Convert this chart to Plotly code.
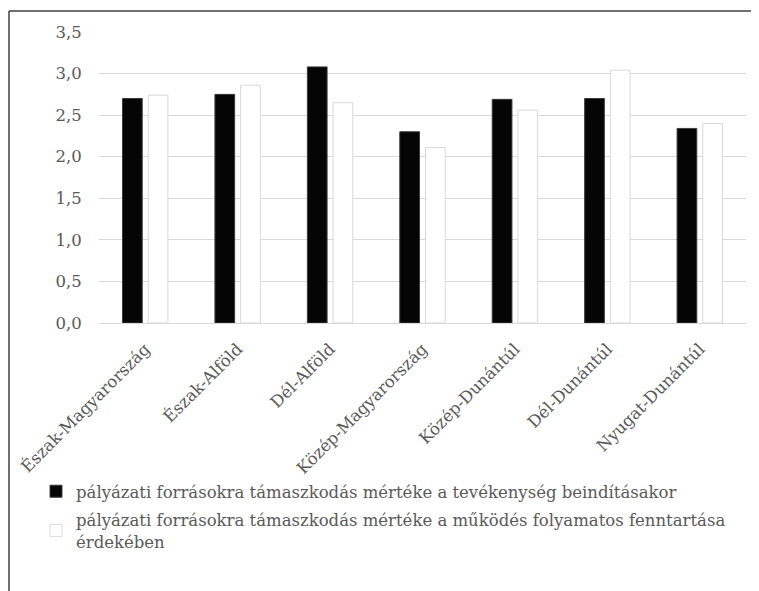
import plotly.graph_objects as go

categories = ["Észak-Magyarország", "Észak-Alföld", "Dél-Alföld", "Közép-Magyarország",
              "Közép-Dunántúl", "Dél-Dunántúl", "Nyugat-Dunántúl"]
start_values = [2.70, 2.75, 3.08, 2.30, 2.69, 2.70, 2.34]
maintain_values = [2.74, 2.86, 2.65, 2.11, 2.56, 3.04, 2.40]
series_names = [
    "pályázati forrásokra támaszkodás mértéke a tevékenység beindításakor",
    "pályázati forrásokra támaszkodás mértéke a működés folyamatos fenntartása<br>érdekében",
]
y_ticks = [0, 0.5, 1.0, 1.5, 2.0, 2.5, 3.0, 3.5]

# the page body adds an 8px margin; size the figure so it ends at the window edge
OFF = 8
W, H = 759 - OFF, 591 - OFF
ML, MR, MT, MB = 99 - OFF, 13, 32 - OFF, 268
pw, ph = W - ML - MR, H - MT - MB

FONT = "DejaVu Serif, serif"
GREY = "#595959"
FS = 16.5

fig = go.Figure()
fig.add_trace(go.Bar(x=categories, y=start_values, name=series_names[0],
                     marker=dict(color="#050505", line=dict(color="#3a3a3a", width=1)),
                     legendgroup="a"))
fig.add_trace(go.Bar(x=categories, y=maintain_values, name=series_names[1],
                     marker=dict(color="#ffffff", line=dict(color="#d9d9d9", width=1)),
                     legendgroup="b"))


def px_x(p):
    return (p - OFF - ML) / pw


def px_y(p):
    return (H - MB - (p - OFF)) / ph


fig.add_shape(type="line", xref="paper", yref="paper",
              x0=px_x(9), x1=px_x(9), y0=px_y(11), y1=px_y(591),
              line=dict(color="#404040", width=1.5))
fig.add_shape(type="line", xref="paper", yref="paper",
              x0=px_x(9), x1=px_x(759), y0=px_y(11), y1=px_y(11),
              line=dict(color="#404040", width=1.5))

fig.update_layout(
    width=W, height=H,
    margin=dict(l=ML, r=MR, t=MT, b=MB, pad=0, autoexpand=False),
    paper_bgcolor="white", plot_bgcolor="white",
    barmode="group", bargap=0.444, bargroupgap=0.233,
    separators=", ",
    font=dict(family=FONT, size=FS, color=GREY),
    showlegend=True,
    legend=dict(x=px_x(36), y=px_y(474),
                xanchor="left", yanchor="top", orientation="v",
                font=dict(family=FONT, size=FS, color=GREY),
                tracegroupgap=4, itemwidth=30, bgcolor="rgba(0,0,0,0)"),
    xaxis=dict(tickangle=-45, showgrid=False, showline=True, linecolor="#d9d9d9",
               linewidth=1, ticks="outside", ticklen=9, tickcolor="rgba(0,0,0,0)",
               automargin=False,
               tickfont=dict(family=FONT, size=FS, color=GREY)),
    yaxis=dict(range=[0, 3.5], tickvals=y_ticks, tickformat=".1f", showgrid=True,
               gridcolor="#d9d9d9", gridwidth=1, zeroline=False, showline=False,
               ticks="outside", ticklen=13, tickcolor="rgba(0,0,0,0)", automargin=False,
               tickfont=dict(family=FONT, size=FS, color=GREY)),
)

fig.write_html("out.html")
